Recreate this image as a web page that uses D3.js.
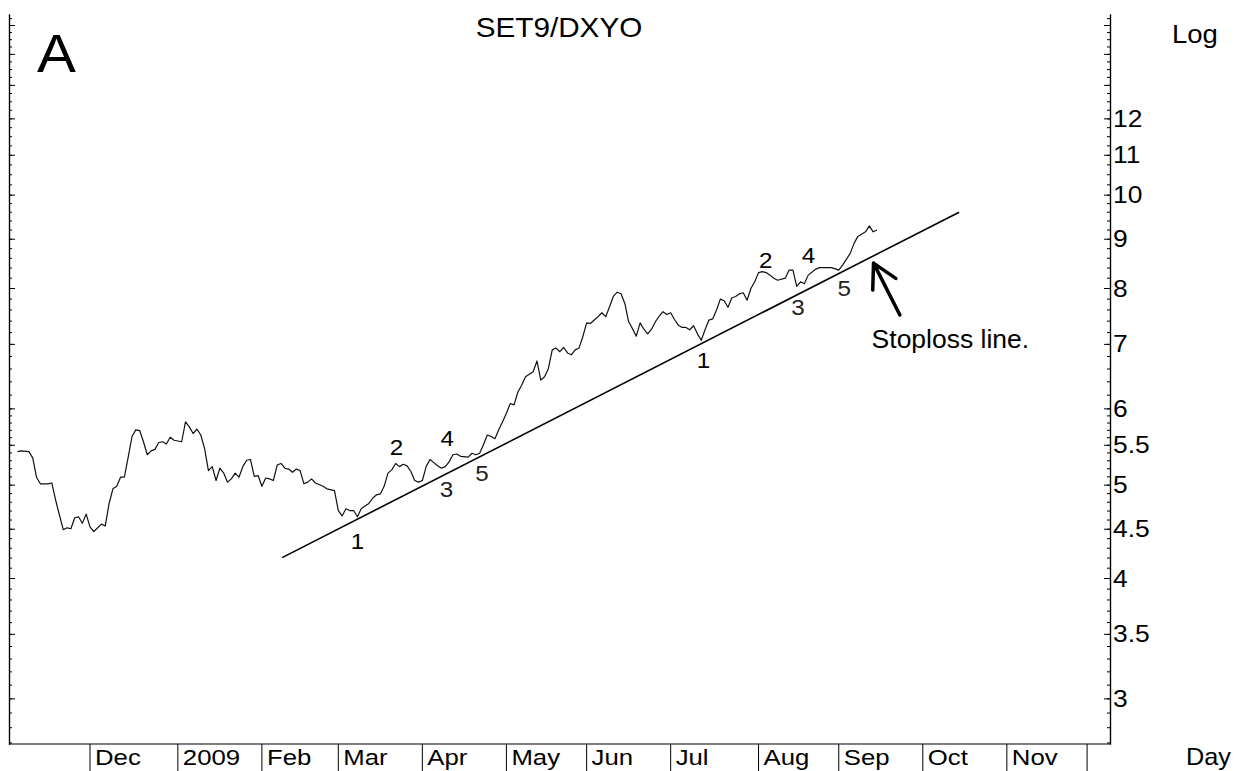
<!DOCTYPE html>
<html>
<head>
<meta charset="utf-8">
<script src="https://cdn.jsdelivr.net/npm/d3@7"></script>
<style>
  html, body { margin: 0; padding: 0; background: #fff; }
  text { font-family: 'Liberation Sans', Arial, sans-serif; fill: #000; }
</style>
</head>
<body>
<script>
// ---- DATA ----
// trading day index (weekdays counted from Mon 3 Nov 2008 = 0)
const baseDate = new Date(2008, 10, 3);
const tradingDay = [1,2,4,5,6,7,9,10,11,12,13,14,15,16,17,18,19,20,21,23,24,25,26,27,28,29,30,31,32,33,34,35,36,37,38,39,40,41,42,44,45,46,47,48,49,50,51,52,53,54,55,56,57,58,59,60,61,62,63,64,65,66,67,68,69,70,71,72,73,74,75,76,77,78,79,81,82,84,85,86,87,88,89,90,91,92,93,94,95,96,97,98,99,100,101,102,103,104,105,106,107,108,109,110,111,112,113,114,115,116,117,119,120,121,122,123,124,125,126,127,128,129,130,131,132,133,134,136,137,138,139,140,141,142,143,144,145,146,147,148,149,150,151,152,153,154,155,156,157,158,159,160,161,162,163,164,165,166,167,168,169,170,171,172,173,174,175,176,177,178,179,180,181,182,183,184,185,186,187,188,189,190,191,192,193,194,195,196,197,198,199,200,202,203,204,205,206,207,208,210,211,212,214,215,216,217,219,220,221,223,224,225,226];
const closeValue = [5.41,5.42,5.41,5.33,5.09,5.01,5.01,5.02,4.82,4.65,4.49,4.51,4.50,4.62,4.63,4.56,4.66,4.52,4.47,4.55,4.53,4.78,4.95,4.98,5.09,5.09,5.34,5.61,5.70,5.69,5.54,5.37,5.42,5.44,5.53,5.54,5.51,5.60,5.56,5.54,5.81,5.74,5.65,5.71,5.63,5.45,5.17,5.22,5.05,5.20,5.14,5.03,5.07,5.14,5.09,5.22,5.30,5.31,5.10,5.11,4.98,5.08,5.07,5.05,5.24,5.26,5.20,5.19,5.15,5.19,5.17,5.01,5.03,5.07,5.02,4.98,4.95,4.93,4.70,4.64,4.72,4.70,4.70,4.63,4.72,4.75,4.78,4.84,4.88,4.89,4.98,5.14,5.18,5.26,5.22,5.25,5.23,5.16,5.05,5.03,5.05,5.22,5.31,5.27,5.23,5.20,5.22,5.28,5.37,5.38,5.35,5.34,5.39,5.37,5.39,5.50,5.63,5.61,5.58,5.70,5.81,5.93,6.07,6.05,6.24,6.34,6.47,6.55,6.72,6.42,6.47,6.60,6.90,6.93,6.87,6.94,6.85,6.82,6.90,6.93,7.12,7.36,7.35,7.41,7.47,7.54,7.47,7.65,7.84,7.92,7.89,7.71,7.38,7.26,7.13,7.36,7.25,7.17,7.25,7.38,7.48,7.56,7.51,7.54,7.42,7.32,7.28,7.28,7.24,7.31,7.17,7.06,7.24,7.41,7.43,7.59,7.79,7.76,7.64,7.81,7.84,7.89,7.91,7.77,7.99,8.12,8.30,8.32,8.30,8.25,8.19,8.15,8.19,8.35,8.35,8.03,8.12,8.08,8.25,8.37,8.40,8.40,8.40,8.38,8.35,8.45,8.69,8.90,9.05,9.15,9.28,9.15,9.19];

// stoploss trend line end points [tradingDay, value]
const trendDay = [70.3, 247.5];
const trendValue = [4.20, 9.59];

// wave count labels
const waveText  = ["1","2","3","4","5","1","2","3","4","5"];
const waveDay   = [90.0,100.2,113.3,113.5,122.6,180.6,196.9,205.3,208.1,217.4];
const waveValue = [4.29,5.37,4.86,5.49,5.04,6.60,8.39,7.50,8.49,7.84];

// arrow annotation (tip / tail) and its text
const arrowDay = [225.1, 232.0];
const arrowValue = [8.49, 7.50];
const noteText = "Stoploss line.";
const noteDay = 224.6, noteValue = 6.93;

// axis tick labels
const yTickValues = [3,3.5,4,4.5,5,5.5,6,7,8,9,10,11,12];
const yTickLabels = ["3","3.5","4","4.5","5","5.5","6","7","8","9","10","11","12"];
const monthStarts = ["2008-12-01","2009-01-01","2009-02-01","2009-03-01","2009-04-01","2009-05-01","2009-06-01","2009-07-01","2009-08-01","2009-09-01","2009-10-01","2009-11-01","2009-12-01"];
const monthLabels = ["Dec","2009","Feb","Mar","Apr","May","Jun","Jul","Aug","Sep","Oct","Nov",""];

const titleText = "SET9/DXYO";

// ---- CHART ----
(function () {
const W = 1235, H = 771;
const pL = 9, pR = 1110, pT = 14, pB = 744;

const svg = d3.select("body").append("svg").attr("width", W).attr("height", H);

function dayIndex(str) {
  const p = str.split("-").map(Number);
  const d = new Date(p[0], p[1]-1, p[2]);
  const days = Math.round((d - baseDate) / 864e5);
  const wk = Math.floor(days / 7), rem = days % 7;
  return wk * 5 + Math.min(rem, 5);
}

const x = d3.scaleLinear().domain([-1.2, 287]).range([pL, pR]);
const y = d3.scaleLog().domain([2.69, 15.4]).range([pB, pT]);

function stext(g, str, px, py, size, sx, anchor) {
  return g.append("text")
    .attr("transform", `translate(${px},${py}) scale(${sx},1)`)
    .attr("font-size", size)
    .attr("text-anchor", anchor || "start")
    .text(str);
}

// minor / major ticks
const minorTicks = d3.range(2.7, 5.999, 0.1).concat(d3.range(6, 9.999, 0.2), d3.range(10, 15.4, 0.25));
const majorTicks = yTickValues.concat([13,14,15]);

// right axis
const ra = svg.append("g").attr("transform", `translate(${pR},0)`);
ra.call(d3.axisLeft(y).tickValues(minorTicks).tickSize(3).tickSizeOuter(0).tickFormat(""));
ra.append("g").call(d3.axisLeft(y).tickValues(majorTicks).tickSize(6).tickSizeOuter(0).tickFormat(""));
// left axis
const la = svg.append("g").attr("transform", `translate(${pL},0)`);
la.call(d3.axisRight(y).tickValues(minorTicks).tickSize(3).tickSizeOuter(0).tickFormat(""));
la.append("g").call(d3.axisRight(y).tickValues(majorTicks).tickSize(6).tickSizeOuter(0).tickFormat(""));
svg.selectAll(".domain").attr("stroke", "#000").attr("stroke-width", 1.2);
svg.selectAll(".tick line").attr("stroke", "#000").attr("stroke-width", 1);

// right tick labels
const labG = svg.append("g");
yTickValues.forEach((v, k) => {
  stext(labG, yTickLabels[k], pR + 3, y(v) + 8.5, 24, 1.1);
});
stext(svg, "Log", 1172, 43, 25, 1.1);

// bottom axis
svg.append("line").attr("x1", pL).attr("x2", pR).attr("y1", pB).attr("y2", pB)
  .attr("stroke", "#000").attr("stroke-width", 1.2);
monthStarts.forEach((m, k) => {
  const xi = x(dayIndex(m));
  svg.append("line").attr("x1", xi).attr("x2", xi).attr("y1", pB).attr("y2", H)
    .attr("stroke", "#000").attr("stroke-width", 1);
  if (monthLabels[k]) stext(svg, monthLabels[k], xi + 5, 765, 23, 1.12);
});
stext(svg, "Day", 1186, 765, 23, 1.1);

// title and panel letter
stext(svg, titleText, 559, 36.7, 28, 1.06, "middle");
stext(svg, "A", 37, 71.7, 54, 1.08);

// trend line
svg.append("line")
  .attr("x1", x(trendDay[0])).attr("y1", y(trendValue[0]))
  .attr("x2", x(trendDay[1])).attr("y2", y(trendValue[1]))
  .attr("stroke", "#000").attr("stroke-width", 1.6);

// price line
const series = tradingDay.map((d, k) => ({ d, v: closeValue[k] }));
svg.append("path").datum(series)
  .attr("fill", "none").attr("stroke", "#111").attr("stroke-width", 1.2)
  .attr("stroke-linejoin", "round")
  .attr("d", d3.line().x(p => x(p.d)).y(p => y(p.v)));

// wave labels
waveText.forEach((t, k) => {
  stext(svg, t, x(waveDay[k]), y(waveValue[k]), 22, 1.1, "middle")
    .style("fill", (t === "3" || t === "5") ? "#222" : "#000");
});

// arrow
const tip = [x(arrowDay[0]), y(arrowValue[0])];
const tail = [x(arrowDay[1]), y(arrowValue[1])];
const ang = Math.atan2(tail[1] - tip[1], tail[0] - tip[0]);
const wl = 27, wa = 0.5;
const w1 = [tip[0] + wl * Math.cos(ang - wa), tip[1] + wl * Math.sin(ang - wa)];
const w2 = [tip[0] + wl * Math.cos(ang + wa), tip[1] + wl * Math.sin(ang + wa)];
svg.append("path")
  .attr("d", `M${tail[0]},${tail[1]}L${tip[0]},${tip[1]}M${w1[0]},${w1[1]}L${tip[0]},${tip[1]}L${w2[0]},${w2[1]}`)
  .attr("fill", "none").attr("stroke", "#000").attr("stroke-width", 3.5)
  .attr("stroke-linecap", "round").attr("stroke-linejoin", "round");

stext(svg, noteText, x(noteDay), y(noteValue), 25, 1.06);
})();
</script>
</body>
</html>
